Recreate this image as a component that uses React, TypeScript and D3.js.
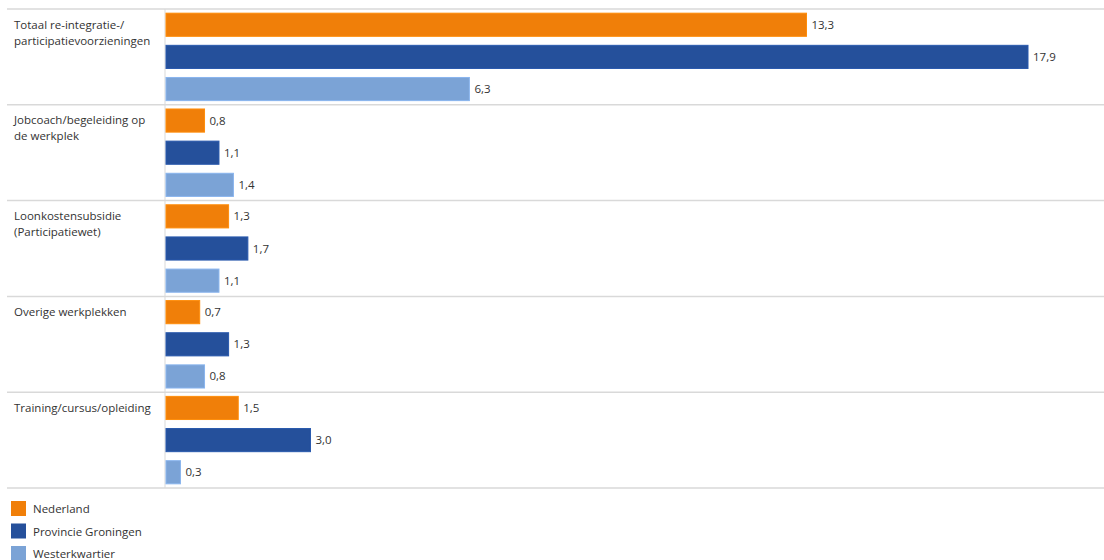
import React from "react";
import * as d3 from "d3";

const categories: string[][] = [
  ["Totaal re-integratie-/", "participatievoorzieningen"],
  ["Jobcoach/begeleiding op", "de werkplek"],
  ["Loonkostensubsidie", "(Participatiewet)"],
  ["Overige werkplekken"],
  ["Training/cursus/opleiding"],
];
const seriesNames = ["Nederland", "Provincie Groningen", "Westerkwartier"];
const nederland = [13.3, 0.8, 1.3, 0.7, 1.5];
const groningen = [17.9, 1.1, 1.7, 1.3, 3.0];
const westerkwartier = [6.3, 1.4, 1.1, 0.8, 0.3];
const colors = ["#F07F09", "#25509B", "#7BA3D6"];

const W = 1104;
const H = 560;

export default function App() {
  const series = [nederland, groningen, westerkwartier];
  const top = 9;
  const bottom = 488;
  const x0 = 166;
  const x = d3.scaleLinear().domain([0, 17.9]).range([x0, 1028]);
  const y = d3
    .scaleBand<number>()
    .domain(d3.range(categories.length))
    .range([top, bottom]);
  const inner = d3
    .scaleBand<number>()
    .domain([0, 1, 2])
    .range([0, y.bandwidth()])
    .paddingInner(0.28)
    .paddingOuter(0.13);
  const fmt = (v: number) => v.toFixed(1).replace(".", ",");
  const font = "'Open Sans', 'Liberation Sans', sans-serif";

  return (
    <svg
      width={W}
      height={H}
      style={{ position: "absolute", left: 0, top: 0, background: "#fff" }}
      fontFamily={font}
    >
      {d3.range(categories.length + 1).map((i) => {
        const yy = i < categories.length ? y(i)! : bottom;
        return (
          <line key={"g" + i} x1={7} x2={W} y1={yy} y2={yy} stroke="#d9d9d9" strokeWidth={1.5} />
        );
      })}
      <line x1={165} x2={165} y1={top} y2={bottom} stroke="#d9d9d9" strokeWidth={1} />
      {categories.map((lines, i) => (
        <text key={"c" + i} x={14} y={y(i)! + 19.5} fontSize={11.5} fill="#333">
          {lines.map((l, j) => (
            <tspan key={j} x={14} dy={j === 0 ? 0 : 16}>
              {l}
            </tspan>
          ))}
        </text>
      ))}
      {series.map((vals, s) =>
        vals.map((v, i) => {
          const by = y(i)! + inner(s)!;
          const bh = inner.bandwidth();
          return (
            <g key={`b${s}-${i}`}>
              <rect
                x={x0}
                y={by}
                width={x(v) - x0}
                height={bh}
                fill={colors[s]}
                stroke={d3.color(colors[s])!.brighter(0.3).toString()}
                strokeWidth={1}
              />
              <text x={x(v) + 5} y={by + bh / 2 + 4} fontSize={11.5} fill="#333">
                {fmt(v)}
              </text>
            </g>
          );
        })
      )}
      {seriesNames.map((n, s) => (
        <g key={"l" + s} transform={`translate(11, ${501 + s * 22.5})`}>
          <rect width={15} height={15} fill={colors[s]} />
          <text x={22} y={12} fontSize={11.5} fill="#333">
            {n}
          </text>
        </g>
      ))}
    </svg>
  );
}
